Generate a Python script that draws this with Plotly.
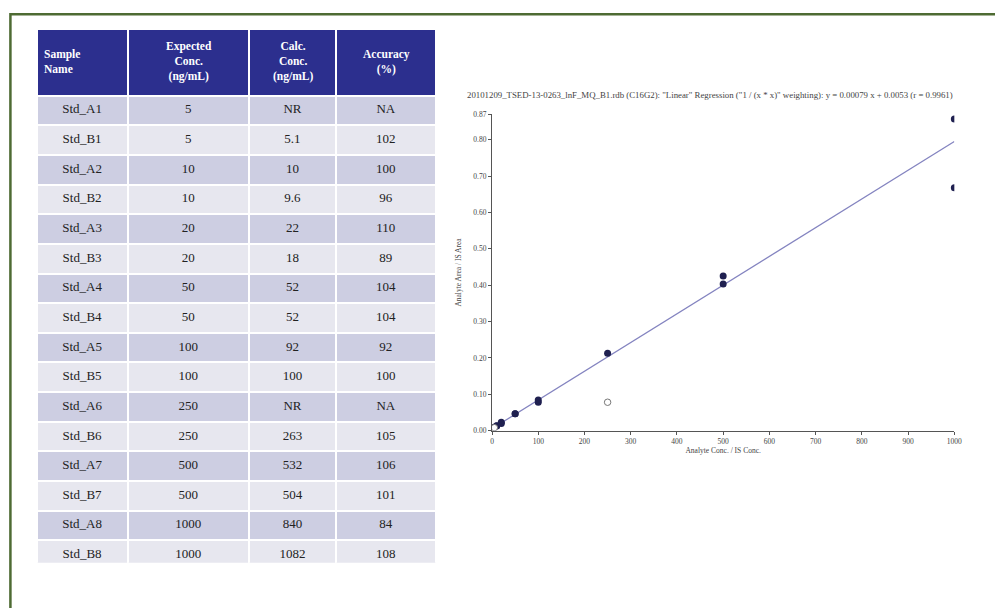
import plotly.graph_objects as go

# Calibration standards
sample_names = ["Std_A1", "Std_B1", "Std_A2", "Std_B2", "Std_A3", "Std_B3", "Std_A4", "Std_B4",
                "Std_A5", "Std_B5", "Std_A6", "Std_B6", "Std_A7", "Std_B7", "Std_A8", "Std_B8"]
expected_conc = [5, 5, 10, 10, 20, 20, 50, 50, 100, 100, 250, 250, 500, 500, 1000, 1000]
calc_conc = ["NR", "5.1", "10", "9.6", "22", "18", "52", "52", "92", "100", "NR", "263", "532", "504", "840", "1082"]
accuracy = ["NA", "102", "100", "96", "110", "89", "104", "104", "92", "100", "NA", "105", "106", "101", "84", "108"]
header_labels = ["Sample<br>Name", "Expected<br>Conc.<br>(ng/mL)", "Calc.<br>Conc.<br>(ng/mL)", "Accuracy<br>(%)"]

# Measured response (analyte area / IS area) for each standard
area_ratio = [0.008, 0.0093, 0.0130, 0.0128, 0.0230, 0.0195, 0.0460, 0.0462, 0.0780, 0.0843,
              0.0780, 0.2130, 0.4256, 0.4035, 0.6680, 0.8570]
excluded = [True, False, False, False, False, False, False, False, False, False,
            True, False, False, False, False, False]

# Regression reported in the chart title
slope = 0.00079
intercept = 0.0053
r_value = 0.9961

y_ticks = [0.00, 0.10, 0.20, 0.30, 0.40, 0.50, 0.60, 0.70, 0.80, 0.87]
x_ticks = [0, 100, 200, 300, 400, 500, 600, 700, 800, 900, 1000]

W, H = 995, 608
SERIF = "Liberation Serif, Times New Roman, serif"
fig = go.Figure()

# ---- table ----
tbl_left, tbl_right, tbl_top, tbl_bottom = 35, 439, 25, 568
col_w = [92, 123, 88, 101]
row_fill = ["#cdcee2" if i % 2 == 0 else "#e7e7ef" for i in range(len(sample_names))]
fig.add_trace(go.Table(
    domain=dict(x=[tbl_left / W, tbl_right / W], y=[1 - tbl_bottom / H, 1 - tbl_top / H]),
    columnwidth=col_w,
    header=dict(
        values=["", "", "", ""],
        fill_color="#2c2f8e",
        line=dict(color="white", width=2),
        height=67,
    ),
    cells=dict(
        values=[sample_names, [str(v) for v in expected_conc], calc_conc, accuracy],
        fill_color=[row_fill] * 4,
        line=dict(color="white", width=2),
        font=dict(family=SERIF, size=13, color="#222"),
        align="center",
        height=29.65,
    ),
))

# Header labels, vertically centred in the header band
x_edge = tbl_left
for i, (lab, w) in enumerate(zip(header_labels, col_w)):
    if i == 0:
        xa, anchor = x_edge + 5, "left"
    else:
        xa, anchor = x_edge + w / 2, "center"
    fig.add_annotation(xref="paper", yref="paper", x=xa / W, y=1 - 58.5 / H,
                       xanchor=anchor, yanchor="middle", showarrow=False,
                       text=f"<b>{lab}</b>", align="left" if i == 0 else "center",
                       font=dict(family=SERIF, size=11.5, color="white"))
    x_edge += w

# ---- calibration plot ----
inc_x = [x for x, e in zip(expected_conc, excluded) if not e]
inc_y = [y for y, e in zip(area_ratio, excluded) if not e]
exc_x = [x for x, e in zip(expected_conc, excluded) if e]
exc_y = [y for y, e in zip(area_ratio, excluded) if e]

line_x = [0, 1000]
line_y = [slope * x + intercept for x in line_x]

fig.add_trace(go.Scatter(x=line_x, y=line_y, mode="lines",
                         line=dict(color="#8484c0", width=1.3), showlegend=False,
                         xaxis="x", yaxis="y"))
fig.add_trace(go.Scatter(x=inc_x, y=inc_y, mode="markers",
                         marker=dict(size=7, color="#1f2050"), showlegend=False,
                         xaxis="x", yaxis="y"))
fig.add_trace(go.Scatter(x=exc_x, y=exc_y, mode="markers",
                         marker=dict(size=6.5, color="white", line=dict(color="#777", width=1)),
                         showlegend=False, xaxis="x", yaxis="y"))

tick_font = dict(family=SERIF, size=7.5, color="#444")
fig.update_layout(
    width=W, height=H,
    margin=dict(l=0, r=0, t=0, b=0),
    paper_bgcolor="white", plot_bgcolor="white",
    xaxis=dict(domain=[495 / W, 962 / W], range=[0, 1000], tickvals=x_ticks,
               ticktext=[str(v) for v in x_ticks],
               showgrid=False, zeroline=False, showline=True, linecolor="#555", linewidth=1.3,
               ticks="outside", ticklen=3, tickcolor="#555", tickfont=tick_font,
               anchor="y",
               title=dict(text="Analyte Conc. / IS Conc.",
                          font=dict(family=SERIF, size=7.5, color="#444"),
                          standoff=1)),
    yaxis=dict(domain=[1 - 433 / H, 1 - 112 / H], range=[0, 0.87], tickvals=y_ticks,
               ticktext=[f"{v:.2f}" for v in y_ticks],
               showgrid=False, zeroline=False, showline=True, linecolor="#555", linewidth=1.3,
               ticks="outside", ticklen=3, tickcolor="#555", tickfont=tick_font,
               anchor="x",
               title=dict(text="Analyte Area / IS Area",
                          font=dict(family=SERIF, size=7.5, color="#444"),
                          standoff=10)),
)

fig.add_annotation(
    xref="paper", yref="paper", x=468 / W, y=1 - 92 / H, xanchor="left", yanchor="middle",
    showarrow=False,
    text=('20101209_TSED-13-0263_lnF_MQ_B1.rdb (C16G2): "Linear" Regression ("1 / (x * x)" weighting): '
          f'y = {slope:.5f} x + {intercept:.4f} (r = {r_value:.4f})'),
    font=dict(family=SERIF, size=8.8, color="#444"),
)

# Outer frame
fig.add_shape(type="rect", xref="paper", yref="paper",
              x0=8.5 / W, x1=1.2, y0=-0.2, y1=1 - 10.5 / H,
              line=dict(color="#4e6b33", width=2.5), fillcolor="rgba(0,0,0,0)", layer="above")

fig.write_html("out.html")
